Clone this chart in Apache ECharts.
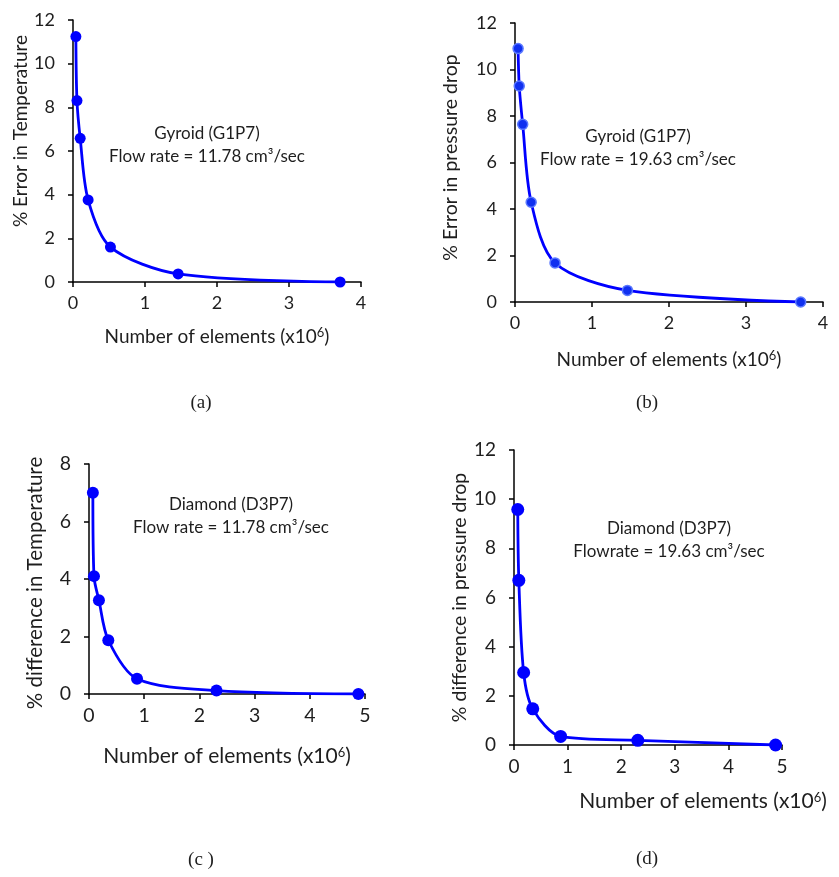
<!DOCTYPE html>
<html>
<head>
<meta charset="utf-8">
<script src="https://cdn.jsdelivr.net/npm/echarts@6/dist/echarts.min.js"></script>
<style>
html, body { margin: 0; padding: 0; background: #fff; }
#main { width: 839px; height: 877px; }
</style>
</head>
<body>
<div id="main"></div>
<script>
// data (elements in millions)
var gyroidElems = [0.04, 0.055, 0.10, 0.21, 0.52, 1.46, 3.71];
var gyroidTempErr = [11.24, 8.31, 6.58, 3.76, 1.60, 0.37, 0];
var gyroidPresErr = [10.9, 9.29, 7.64, 4.29, 1.68, 0.50, 0];
var diamondElems = [0.07, 0.09, 0.18, 0.35, 0.87, 2.31, 4.88];
var diamondTempDiff = [7.0, 4.10, 3.26, 1.87, 0.53, 0.12, 0];
var diamondPresDiff = [9.58, 6.70, 2.95, 1.47, 0.35, 0.19, 0];

var xMax = [4, 4, 5, 5];
var yMax = [12, 12, 8, 12];
var yNames = ['% Error in Temperature', '% Error in pressure drop',
    '% difference in Temperature', '% difference in pressure drop'];
var xName = 'Number of elements (x10{sup|6})';

var FONT = 'Lato';
var TXT = '#1e1e1e';

function pairs(xs, ys) {
    return xs.map(function (x, i) { return [x, ys[i]]; });
}

var panels = [
    { grid: { left: 73, top: 20, width: 288, height: 262 }, data: pairs(gyroidElems, gyroidTempErr),
      sym: 11, tick: 18, xFs: 19, xGap: 44, xPad: 0, yFs: 19, yGap: 42, yPad: 40 },
    { grid: { left: 515, top: 23, width: 308, height: 279 }, data: pairs(gyroidElems, gyroidPresErr),
      sym: 10, tick: 18, xFs: 19, xGap: 47, xPad: 0, yFs: 19.5, yGap: 54, yPad: 10 },
    { grid: { left: 89, top: 464, width: 276, height: 230 }, data: pairs(diamondElems, diamondTempDiff),
      sym: 12, tick: 19.5, xFs: 21, xGap: 52, xPad: 0, yFs: 20.5, yGap: 43, yPad: -8 },
    { grid: { left: 514, top: 450, width: 268, height: 295 }, data: pairs(diamondElems, diamondPresDiff),
      sym: 13, tick: 19, xFs: 21, xGap: 46, xPad: 110, yFs: 19.5, yGap: 39, yPad: 0 }
];

var axisLine = { show: true, onZero: false, lineStyle: { color: '#000', width: 1.5 } };
var axisTick = { show: true, inside: false, length: 5, lineStyle: { color: '#000', width: 1.5 } };

var option = {
    animation: false,
    backgroundColor: '#fff',
    grid: [], xAxis: [], yAxis: [], series: [],
    title: [
        { text: 'Gyroid (G1P7)\nFlow rate = 11.78 cm³/sec', left: 202, top: 117, textAlign: 'center' },
        { text: 'Gyroid (G1P7)\nFlow rate = 19.63 cm³/sec', left: 633, top: 120, textAlign: 'center' },
        { text: 'Diamond (D3P7)\nFlow rate = 11.78 cm³/sec', left: 226, top: 488, textAlign: 'center' },
        { text: 'Diamond (D3P7)\nFlowrate = 19.63 cm³/sec', left: 664, top: 512, textAlign: 'center' },
        { text: '(a)', left: 196, top: 389, textAlign: 'center' },
        { text: '(b)', left: 642, top: 389, textAlign: 'center' },
        { text: '(c )', left: 196, top: 846, textAlign: 'center' },
        { text: '(d)', left: 642, top: 845, textAlign: 'center' }
    ].map(function (t, i) {
        t.textStyle = i < 4
            ? { fontFamily: FONT, fontSize: 17, fontWeight: 'normal', color: TXT, lineHeight: 23, align: 'center' }
            : { fontFamily: 'Liberation Serif', fontSize: 19, fontWeight: 'normal', color: TXT };
        return t;
    })
};

panels.forEach(function (p, i) {
    option.grid.push(p.grid);
    option.xAxis.push({
        type: 'value', gridIndex: i, min: 0, max: xMax[i], interval: 1,
        axisLine: axisLine, axisTick: axisTick, splitLine: { show: false },
        axisLabel: { fontFamily: FONT, fontSize: p.tick, color: TXT, margin: 12 },
        name: xName, nameLocation: 'middle', nameGap: p.xGap,
        nameTextStyle: {
            fontFamily: FONT, fontSize: p.xFs, color: TXT, padding: [0, 0, 0, p.xPad],
            rich: { sup: { fontFamily: FONT, fontSize: 13, color: TXT, verticalAlign: 'top', padding: [0, 0, 8, 0] } }
        }
    });
    option.yAxis.push({
        type: 'value', gridIndex: i, min: 0, max: yMax[i], interval: 2,
        axisLine: axisLine, axisTick: axisTick, splitLine: { show: false },
        axisLabel: { fontFamily: FONT, fontSize: p.tick, color: TXT, margin: 18 },
        name: yNames[i], nameLocation: 'middle', nameRotate: 90, nameGap: p.yGap,
        nameTextStyle: { fontFamily: FONT, fontSize: p.yFs, color: TXT, padding: p.yPad >= 0 ? [0, 0, 0, p.yPad] : [0, -p.yPad, 0, 0] }
    });
    option.series.push({
        type: 'line', xAxisIndex: i, yAxisIndex: i, data: p.data,
        smooth: 0.3,
        symbol: 'circle', symbolSize: p.sym, showSymbol: true,
        lineStyle: { color: '#0000ff', width: 2.8 },
        itemStyle: i === 1
            ? { color: '#1030f0', borderColor: '#5a78ff', borderWidth: 1.5 }
            : { color: '#0000ff' },
        z: 3
    });
});

var myChart = echarts.init(document.getElementById('main'));
if (option && typeof option === 'object') {
    myChart.setOption(option, true);
}
</script>
</body>
</html>
